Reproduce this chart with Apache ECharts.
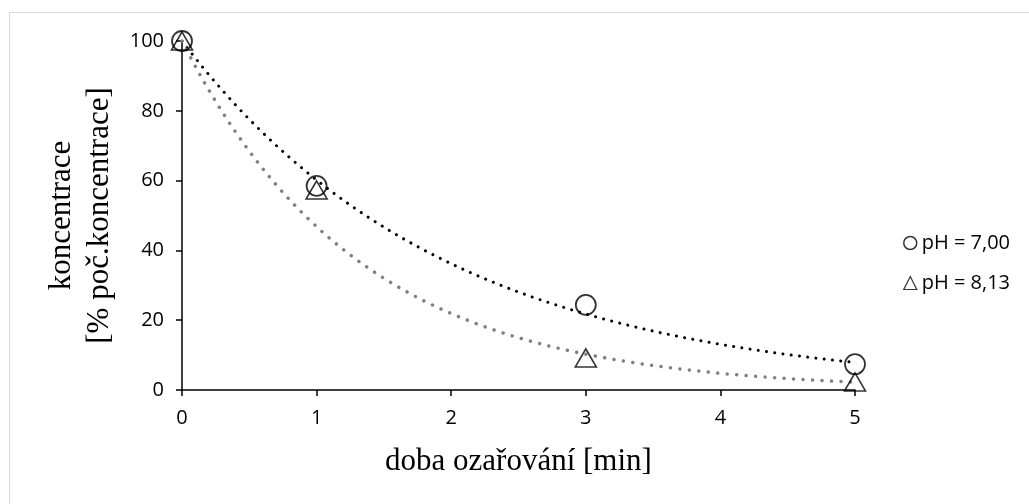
<!DOCTYPE html>
<html>
<head>
<meta charset="utf-8">
<script src="https://cdn.jsdelivr.net/npm/echarts@6/dist/echarts.min.js"></script>
<style>
  html, body { margin: 0; padding: 0; background: #fff; }
  #main { width: 1029px; height: 504px; }
</style>
</head>
<body>
<div id="main"></div>
<script>
// data
var times = [0, 1, 3, 5];
var conc_ph700 = [100, 58.5, 24.4, 7.4];
var conc_ph813 = [100, 57.3, 9.2, 2.3];
var seriesNames = ['pH = 7,00', 'pH = 8,13'];

// exponential trendline, intercept fixed at the first value (y = y0 * e^(b*t))
function expTrend(xs, ys) {
    var y0 = ys[0], sxy = 0, sxx = 0;
    for (var i = 0; i < xs.length; i++) {
        sxy += xs[i] * Math.log(ys[i] / y0);
        sxx += xs[i] * xs[i];
    }
    var b = sxy / sxx;
    var pts = [];
    for (var k = 0; k <= 100; k++) {
        var t = xs[0] + (xs[xs.length - 1] - xs[0]) * k / 100;
        pts.push([t, y0 * Math.exp(b * t)]);
    }
    return pts;
}

function pairs(xs, ys) {
    return xs.map(function (x, i) { return [x, ys[i]]; });
}

var chart = echarts.init(document.getElementById('main'));

var labelFont = { fontFamily: 'Open Sans', fontSize: 20, color: '#000' };

option = {
    backgroundColor: '#fff',
    animation: false,
    graphic: [{
        type: 'rect',
        shape: { x: 9.5, y: 12.5, width: 1100, height: 600 },
        style: { fill: 'none', stroke: '#d9d9d9', lineWidth: 1 },
        silent: true
    }],
    grid: { left: 182, right: 174, top: 41, bottom: 114 },
    legend: {
        orient: 'vertical',
        left: 898,
        top: 228,
        itemGap: 20,
        itemWidth: 13,
        itemHeight: 13,
        textStyle: { fontFamily: 'Open Sans', fontSize: 20, color: '#000' },
        data: [
            { name: seriesNames[0], icon: 'circle', itemStyle: { color: '#fff', borderColor: '#000', borderWidth: 1.5 } },
            { name: seriesNames[1], icon: 'triangle', itemStyle: { color: '#fff', borderColor: '#000', borderWidth: 1.2 } }
        ]
    },
    xAxis: {
        type: 'value',
        min: 0, max: 5, interval: 1,
        splitLine: { show: false },
        axisLine: { onZero: false, lineStyle: { color: '#000', width: 1.5 } },
        axisTick: { length: 6, lineStyle: { color: '#000', width: 1.5 } },
        axisLabel: Object.assign({ margin: 18 }, labelFont),
        name: 'doba ozařování [min]',
        nameLocation: 'middle',
        nameGap: 56,
        nameTextStyle: { fontFamily: 'Liberation Serif', fontSize: 31, color: '#000' }
    },
    yAxis: {
        type: 'value',
        min: 0, max: 100, interval: 20,
        splitLine: { show: false },
        axisLine: { onZero: false, lineStyle: { color: '#000', width: 1.5 } },
        axisTick: { length: 6, lineStyle: { color: '#000', width: 1.5 } },
        axisLabel: Object.assign({ margin: 18 }, labelFont),
        name: 'koncentrace\n[% poč.koncentrace]',
        nameLocation: 'middle',
        nameGap: 62,
        nameTextStyle: { fontFamily: 'Liberation Serif', fontSize: 31, color: '#000', lineHeight: 38 }
    },
    series: [
        {
            name: 'trend7',
            type: 'line',
            data: expTrend(times, conc_ph700),
            showSymbol: false,
            silent: true,
            lineStyle: { color: '#000', width: 3, type: [0.01, 8.3], cap: 'round' },
            z: 1
        },
        {
            name: 'trend813',
            type: 'line',
            data: expTrend(times, conc_ph813),
            showSymbol: false,
            silent: true,
            lineStyle: { color: '#808080', width: 3.5, type: [0.01, 9.5], cap: 'round' },
            z: 1
        },
        {
            name: seriesNames[0],
            type: 'scatter',
            data: pairs(times, conc_ph700),
            symbol: 'circle',
            symbolSize: 20,
            clip: false,
            itemStyle: { color: 'rgba(255,255,255,0)', borderColor: '#000', borderWidth: 1.8 },
            z: 3
        },
        {
            name: seriesNames[1],
            type: 'scatter',
            data: pairs(times, conc_ph813),
            symbol: 'triangle',
            symbolSize: [21, 18],
            clip: false,
            itemStyle: { color: 'rgba(255,255,255,0)', borderColor: '#000', borderWidth: 1.6 },
            z: 3
        }
    ]
};

chart.setOption(option);
</script>
</body>
</html>
